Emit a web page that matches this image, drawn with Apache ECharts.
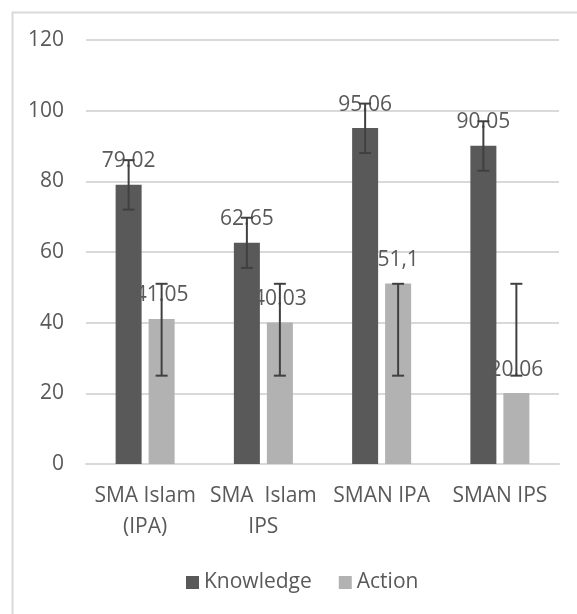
<!DOCTYPE html>
<html>
<head>
<meta charset="utf-8">
<script src="https://cdn.jsdelivr.net/npm/echarts@6/dist/echarts.min.js"></script>
<style>
  html, body { margin: 0; padding: 0; background: #fff; }
  #chart { width: 577px; height: 614px; }
</style>
</head>
<body>
<div id="chart"></div>
<script>
  // data
  const categories = ['SMA Islam\n(IPA)', 'SMA  Islam\nIPS', 'SMAN IPA', 'SMAN IPS']
  const knowledge = [79.02, 62.65, 95.06, 90.05]
  const action = [41.05, 40.03, 51.1, 20.06]
  const knowledgeLabels = ['79.02', '62.65', '95.06', '90.05']
  const actionLabels = ['41.05', '40.03', '51,1', '20.06']
  const knowledgeErrLow = [72, 55.5, 88, 83]
  const knowledgeErrHigh = [86, 69.7, 102, 97]
  const actionErrLow = [25, 25, 25, 25]
  const actionErrHigh = [51, 51, 51, 51]
  const yTicks = [0, 20, 40, 60, 80, 100, 120]

  const BAR_W = 26
  const GAP = 7
  const textColor = '#595959'
  const fontFamily = '"Open Sans", "Noto Sans", sans-serif'
  const fontSize = 21

  function errorSeries(low, high, side) {
    return {
      type: 'custom',
      z: 10,
      silent: true,
      data: low.map((l, i) => [i, l, high[i]]),
      renderItem: function (params, api) {
        const lo = api.coord([api.value(0), api.value(1)])
        const hi = api.coord([api.value(0), api.value(2)])
        const x = lo[0] + side * (BAR_W + GAP) / 2
        const cap = 6
        const style = { stroke: '#404040', lineWidth: 2 }
        return {
          type: 'group',
          children: [
            { type: 'line', shape: { x1: x, y1: hi[1], x2: x, y2: lo[1] }, style: style },
            { type: 'line', shape: { x1: x - cap, y1: hi[1], x2: x + cap, y2: hi[1] }, style: style },
            { type: 'line', shape: { x1: x - cap, y1: lo[1], x2: x + cap, y2: lo[1] }, style: style }
          ]
        }
      }
    }
  }

  const myChart = echarts.init(document.getElementById('chart'))
  const option = {
    backgroundColor: '#fff',
    animation: false,
    textStyle: { fontFamily: fontFamily },
    graphic: [{
      type: 'rect',
      left: 10,
      top: 10,
      shape: { width: 620, height: 660 },
      style: { fill: 'none', stroke: '#d9d9d9', lineWidth: 2 },
      z: -1
    }],
    grid: { left: 86, right: 18, top: 40, bottom: 150 },
    legend: {
      left: 181,
      top: 567,
      itemWidth: 13,
      itemHeight: 13,
      itemGap: 27,
      icon: 'rect',
      textStyle: { color: textColor, fontSize: fontSize, fontFamily: fontFamily },
      data: ['Knowledge', 'Action']
    },
    xAxis: {
      type: 'category',
      data: categories,
      axisLine: { lineStyle: { color: '#d9d9d9', width: 2 } },
      axisTick: { show: false },
      axisLabel: {
        color: textColor,
        fontSize: fontSize,
        lineHeight: 31,
        margin: 17,
        interval: 0
      }
    },
    yAxis: {
      type: 'value',
      min: yTicks[0],
      max: yTicks[yTicks.length - 1],
      interval: 20,
      axisLine: { show: false },
      axisTick: { show: false },
      splitLine: { lineStyle: { color: '#d9d9d9', width: 2 } },
      axisLabel: { color: textColor, fontSize: fontSize, margin: 22 }
    },
    series: [
      {
        name: 'Knowledge',
        type: 'bar',
        barWidth: BAR_W,
        barGap: (GAP / BAR_W * 100) + '%',
        itemStyle: { color: '#595959' },
        label: {
          show: true,
          position: 'top',
          distance: 13,
          color: textColor,
          fontSize: fontSize,
          formatter: (p) => knowledgeLabels[p.dataIndex]
        },
        data: knowledge
      },
      {
        name: 'Action',
        type: 'bar',
        barWidth: BAR_W,
        itemStyle: { color: '#b2b2b2' },
        label: {
          show: true,
          position: 'top',
          distance: 13,
          color: textColor,
          fontSize: fontSize,
          formatter: (p) => actionLabels[p.dataIndex]
        },
        data: action
      },
      errorSeries(knowledgeErrLow, knowledgeErrHigh, -1),
      errorSeries(actionErrLow, actionErrHigh, 1)
    ]
  }
  myChart.setOption(option)
</script>
</body>
</html>
